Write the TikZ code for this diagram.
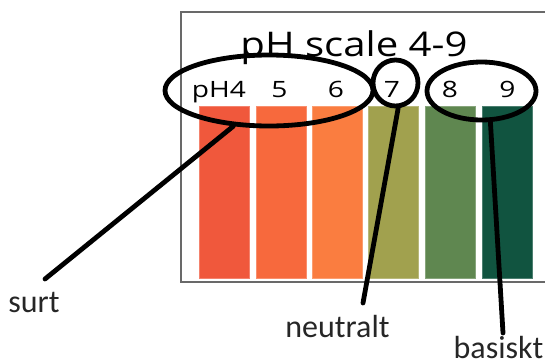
\documentclass[tikz,border=0pt]{standalone}
\usepackage{fontspec}
\setmainfont{Carlito}
\newfontfamily\titlefont{Open Sans}
\usetikzlibrary{shapes.geometric}
\definecolor{cA}{RGB}{240,88,60}
\definecolor{cB}{RGB}{247,105,61}
\definecolor{cC}{RGB}{250,125,64}
\definecolor{cD}{RGB}{161,161,78}
\definecolor{cE}{RGB}{95,135,80}
\definecolor{cF}{RGB}{17,84,64}
\definecolor{framegray}{RGB}{105,105,105}
\definecolor{labelgray}{RGB}{38,38,38}
\begin{document}
\begin{tikzpicture}[x=1pt,y=-1pt,
  bar/.style={draw=#1!75!white,line width=0.7pt,fill=#1},
  ring/.style={ellipse,draw=black,line width=4.8pt,inner sep=0pt},
  link/.style={draw=black,line width=4.8pt,line cap=round},
  num/.style={inner sep=0pt,anchor=base,font=\titlefont\fontsize{22.5}{26}\selectfont},
  lab/.style={inner sep=0pt,anchor=base,text=labelgray,font=\fontsize{32}{38}\selectfont}]
\useasboundingbox (0,0) rectangle (545,362);
% frame
\draw[framegray,line width=2pt] (548,12) -- (181,12) -- (181,282) -- (548,282);
% bars
\foreach \x/\c in {199/cA,256/cB,312/cC,368/cD,425/cE,482/cF}
  \path[bar=\c] (\x,106) rectangle ++(50,172);
% title
\node[inner sep=0pt,anchor=base] (title) at (354,56) {\titlefont\fontsize{34}{40}\selectfont\scalebox{1.18}[1]{pH scale 4-9}};
% numbers
\node[num] (n4) at (219,97) {\scalebox{1.25}[1]{pH4}};
\node[num] (n5) at (279.5,97) {\scalebox{1.25}[1]{5}};
\node[num] (n6) at (336,97) {\scalebox{1.25}[1]{6}};
\node[num] (n7) at (392,97) {\scalebox{1.25}[1]{7}};
\node[num] (n8) at (450,97) {\scalebox{1.25}[1]{8}};
\node[num] (n9) at (507.5,97) {\scalebox{1.25}[1]{9}};
% rings
\node[ring,minimum width=208pt,minimum height=71pt] (acid) at (269,90.5) {};
\node[ring,minimum width=45pt,minimum height=46pt] (neu) at (395.5,83) {};
\node[ring,minimum width=109pt,minimum height=58pt] (bas) at (481.5,91) {};
% labels
\node[lab] (surt) at (34,312) {surt};
\node[lab] (neutralt) at (337.5,337) {neutralt};
\node[lab] (basiskt) at (498.5,358) {basiskt};
% line ends
\coordinate (e1) at (45,279);
\coordinate (e2) at (363,303);
\coordinate (e3) at (503,333);
\draw[link] (acid.225) -- (e1);
\draw[link] (neu.-84) -- (e2);
\draw[link] (bas.-74) -- (e3);
\end{tikzpicture}
\end{document}
